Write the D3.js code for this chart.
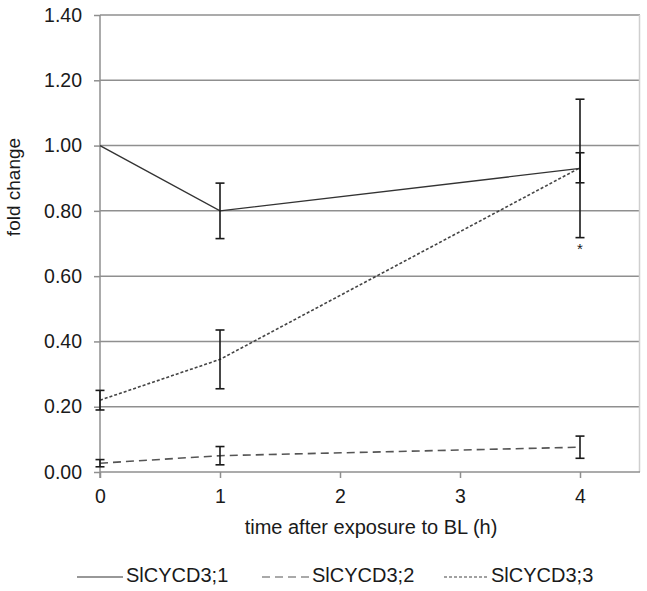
<!DOCTYPE html>
<html><head><meta charset="utf-8">
<script src="https://cdn.jsdelivr.net/npm/d3@7"></script>
<style>body{margin:0;background:#fff}svg{display:block}text{font-family:"Liberation Sans",Arial,sans-serif;fill:#1a1a1a}</style>
</head><body><svg id="c" width="647" height="591"></svg>
<script>
const times = [0, 1, 4];
const xTicks = [0, 1, 2, 3, 4];
const yTicks = [0, 0.2, 0.4, 0.6, 0.8, 1.0, 1.2, 1.4];
const seriesNames = ["SlCYCD3;1", "SlCYCD3;2", "SlCYCD3;3"];
const cycd31 = [1.00, 0.80, 0.93];
const cycd31Err = [0, 0.085, 0.212];
const cycd32 = [0.027, 0.05, 0.076];
const cycd32Err = [0.011, 0.028, 0.034];
const cycd33 = [0.22, 0.345, 0.932];
const cycd33Err = [0.03, 0.09, 0.046];
const starLabels = ["", "", "*"];

const svg = d3.select("#c");
const x = d3.scaleLinear().domain([0, 4.5]).range([100, 640]);
const y = d3.scaleLinear().domain([0, 1.4]).range([472, 15]);

// gridlines
svg.append("g").selectAll("line").data(yTicks.slice(1)).join("line")
  .attr("x1", 100).attr("x2", 640).attr("y1", d => y(d)).attr("y2", d => y(d))
  .attr("stroke", "#8f8f8f").attr("stroke-width", 1.5);
// right border
svg.append("line").attr("x1", 639.5).attr("x2", 639.5).attr("y1", y(1.4)).attr("y2", y(0))
  .attr("stroke", "#cfcfcf").attr("stroke-width", 1.5);

// y axis
const ya = svg.append("g").attr("transform", "translate(100,0)")
  .call(d3.axisLeft(y).tickValues(yTicks).tickFormat(d3.format(".2f")).tickSize(6).tickPadding(12));
ya.select(".domain").attr("stroke", "#8f8f8f").attr("stroke-width", 1.5).attr("d", `M0,${y(1.4)}V${y(0)+6}`);
ya.selectAll(".tick line").attr("stroke", "#8f8f8f").attr("stroke-width", 1.5);
ya.selectAll("text").style("font-size", "19.5px").attr("fill", "#1a1a1a");

// x axis
const xa = svg.append("g").attr("transform", "translate(0,472)")
  .call(d3.axisBottom(x).tickValues(xTicks).tickFormat(d3.format("d")).tickSize(6).tickPadding(11));
xa.select(".domain").attr("stroke", "#8f8f8f").attr("stroke-width", 1.5).attr("d", "M100,0H640");
xa.selectAll(".tick line").attr("stroke", "#8f8f8f").attr("stroke-width", 1.5);
xa.selectAll("text").style("font-size", "19.5px").attr("fill", "#1a1a1a");

// titles
svg.append("text").attr("transform", "translate(20,187) rotate(-90)").attr("text-anchor", "middle")
  .style("font-size", "19px").text("fold change");
svg.append("text").attr("x", 371).attr("y", 534).attr("text-anchor", "middle")
  .style("font-size", "20px").text("time after exposure to BL (h)");

const series = [
  {name: seriesNames[0], v: cycd31, e: cycd31Err, dash: null, color: "#333", w: 1.4},
  {name: seriesNames[1], v: cycd32, e: cycd32Err, dash: "8,5", color: "#555", w: 1.6},
  {name: seriesNames[2], v: cycd33, e: cycd33Err, dash: "3,2", color: "#444", w: 1.6}
];
const line = d3.line().x((d, i) => x(times[i])).y(d => y(d));

series.forEach(s => {
  svg.append("path").datum(s.v).attr("d", line).attr("fill", "none")
    .attr("stroke", s.color).attr("stroke-width", s.w).attr("stroke-dasharray", s.dash);
});
series.forEach(s => {
  const g = svg.append("g");
  s.v.forEach((v, i) => {
    if (!s.e[i]) return;
    const cx = x(times[i]), lo = y(v - s.e[i]), hi = y(v + s.e[i]);
    g.append("line").attr("x1", cx).attr("x2", cx).attr("y1", lo).attr("y2", hi).attr("stroke", "#1a1a1a").attr("stroke-width", 1.6);
    [lo, hi].forEach(yy => g.append("line").attr("x1", cx - 4.5).attr("x2", cx + 4.5).attr("y1", yy).attr("y2", yy)
      .attr("stroke", "#1a1a1a").attr("stroke-width", 1.6));
  });
});
// significance star below the SlCYCD3;1 error bar
cycd31.forEach((v, i) => {
  if (!starLabels[i]) return;
  svg.append("text").attr("x", x(times[i])).attr("y", y(v - cycd31Err[i]) + 16).attr("text-anchor", "middle")
    .style("font-size", "15px").attr("fill", "#334").text(starLabels[i]);
});

// legend
const legendPos = [[77, 123], [262, 309], [444, 488]];
series.forEach((s, i) => {
  const [a, b] = legendPos[i];
  svg.append("line").attr("x1", a).attr("x2", b).attr("y1", 577).attr("y2", 577)
    .attr("stroke", s.color).attr("stroke-width", 1.2).attr("stroke-dasharray", s.dash);
  svg.append("text").attr("x", b + 3).attr("y", 582).style("font-size", "20px").text(s.name);
});
</script></body></html>
